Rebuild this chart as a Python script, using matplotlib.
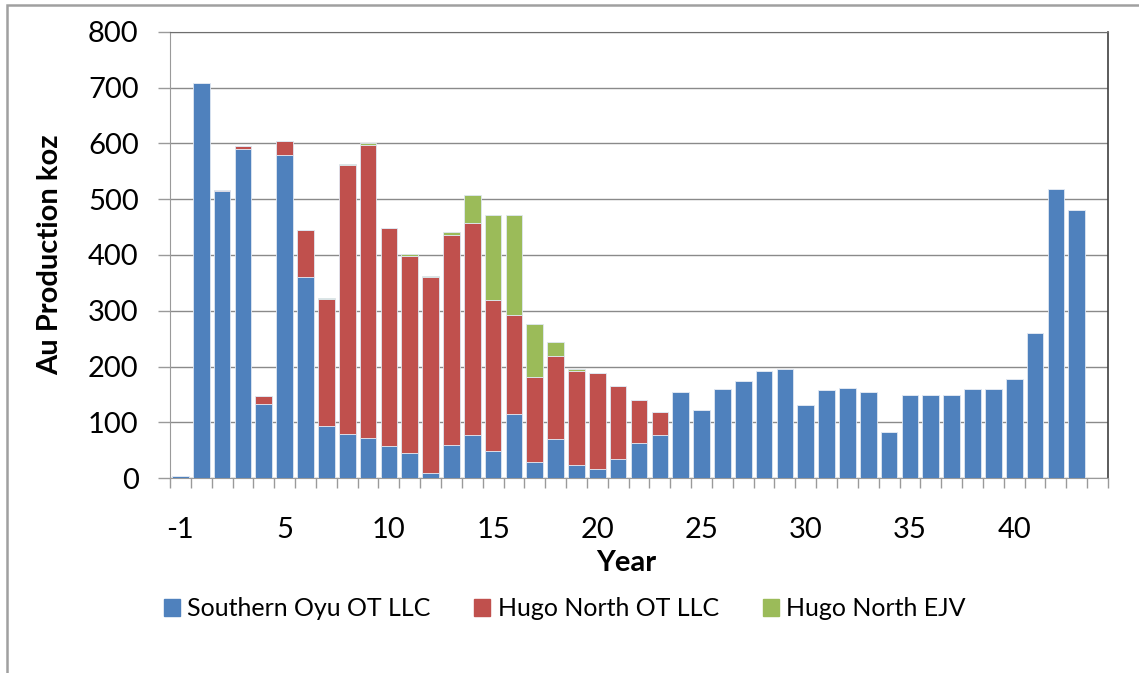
import matplotlib
matplotlib.use("Agg")
import matplotlib.pyplot as plt
from matplotlib.patches import Rectangle, Patch
import numpy as np

years = [-1] + list(range(1, 44))
tick_years = [-1, 5, 10, 15, 20, 25, 30, 35, 40]

southern_oyu = [5, 708, 514, 590, 133, 579, 360, 94, 80, 72, 58, 45, 9, 60, 78,
                49, 115, 29, 70, 23, 17, 34, 63, 78, 154, 123, 160, 174, 193, 196,
                131, 158, 162, 154, 83, 150, 150, 150, 160, 160, 178, 260, 519, 480]
hugo_north_ot = [0, 0, 2, 6, 14, 25, 85, 227, 481, 525, 390, 353, 351, 375, 379,
                 270, 178, 153, 149, 170, 172, 132, 77, 41] + [0] * 20
hugo_north_ejv = [0, 0, 0, 0, 0, 0, 0, 2, 2, 4, 0, 3, 2, 7, 50,
                  153, 179, 94, 26, 2] + [0] * 24

c_blue = "#4F81BD"
c_red = "#C0504D"
c_green = "#9BBB59"

plt.rcParams['font.family'] = ['Lato', 'DejaVu Sans']

fig = plt.figure(figsize=(11.39, 6.73), dpi=100)
ax = fig.add_axes([170 / 1139, 1 - 478.3 / 673, (1108 - 170) / 1139, (478.3 - 31.7) / 673])

x = np.arange(len(years))
s = np.array(southern_oyu)
h = np.array(hugo_north_ot)
e = np.array(hugo_north_ejv)
edge = dict(edgecolor="#dfe7f2", linewidth=0.6)
ax.bar(x, s, width=0.8, color=c_blue, **edge, zorder=3)
ax.bar(x, h, width=0.8, bottom=s, color=c_red, **edge, zorder=3)
ax.bar(x, e, width=0.8, bottom=s + h, color=c_green, **edge, zorder=3)

ax.set_xlim(-0.5, len(years) + 0.5)
ax.set_ylim(0, 800)
ax.set_yticks(range(0, 801, 100))
ax.grid(axis="y", color="#8a8a8a", linewidth=1.0, zorder=0)

ax.set_xticks([years.index(t) for t in tick_years])
ax.set_xticklabels([str(t) for t in tick_years])
ax.set_xticks(np.arange(-0.5, len(years) + 1), minor=True)
ax.tick_params(axis="x", which="major", length=0, pad=28, labelsize=21)
ax.tick_params(axis="x", which="minor", length=7, color="#9a9a9a", width=1, direction="out")
ax.tick_params(axis="y", length=8.5, color="#9a9a9a", width=1, pad=14, labelsize=21)

for side in ["left", "bottom"]:
    ax.spines[side].set_color("#9a9a9a")
ax.spines["top"].set_color("#6e6e6e")
ax.spines["right"].set_color("#404040")
ax.spines["right"].set_linewidth(1.2)

ax.set_ylabel("Au Production koz", fontsize=21, fontweight="bold")
ax.yaxis.set_label_coords(-107 / 938, 0.5)
fig.text(626 / 1139, 1 - 563 / 673, "Year", fontsize=21, fontweight="bold",
         ha="center", va="center")

handles = [Patch(color=c_blue), Patch(color=c_red), Patch(color=c_green)]
labels = ["Southern Oyu OT LLC", "Hugo North OT LLC", "Hugo North EJV"]
fig.legend(handles, labels, loc="center left", bbox_to_anchor=(146 / 1139, 1 - 609 / 673),
           ncol=3, frameon=False, fontsize=18, handlelength=0.64, handleheight=0.64,
           handletextpad=0.3, columnspacing=1.75, borderpad=0.2)

fig.patches.append(Rectangle((7 / 1139, -0.05), 1.1, 1 - 5 / 673 + 0.05,
                             transform=fig.transFigure, fill=False,
                             edgecolor="#a0a0a0", linewidth=1.8))

fig.savefig("out.png", dpi=100)
